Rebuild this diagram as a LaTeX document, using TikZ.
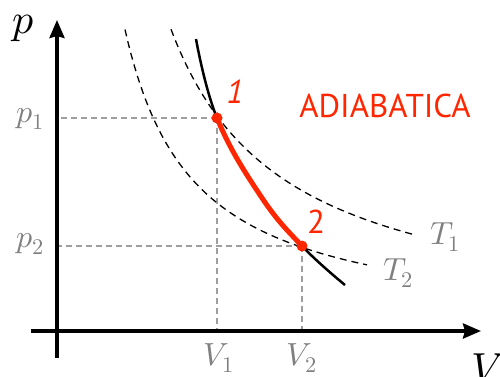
\documentclass[tikz,border=0pt]{standalone}
\usepackage{fontspec}
\usepackage{unicode-math}
\setmathfont{Latin Modern Math}
\newfontfamily\labelfont{PT Sans}
\usetikzlibrary{arrows.meta}
\definecolor{adred}{RGB}{255,38,0}
\definecolor{lblgray}{RGB}{128,128,128}
\definecolor{guidegray}{RGB}{158,158,158}
\begin{document}
\begin{tikzpicture}[x=1pt,y=-1pt,
  axisline/.style={line width=3.4pt,-{Stealth[length=18pt,width=15pt,inset=2pt]}},
  guide/.style={guidegray,line width=2.6pt,dash pattern=on 6pt off 4pt},
  iso/.style={black,line width=1.3pt,dash pattern=on 7pt off 5pt},
  adia/.style={black,line width=2.5pt},
  adiared/.style={adred,line width=5pt},
  dot/.style={circle,fill=adred,inner sep=0pt,minimum size=11pt},
  ticklbl/.style={lblgray,inner sep=0pt,font=\fontsize{32}{38}\selectfont},
  axislbl/.style={black,inner sep=0pt,font=\fontsize{42}{50}\selectfont},
  ptlbl/.style={adred,inner sep=0pt,font=\labelfont\fontsize{33}{40}\selectfont},
]
\useasboundingbox (0,0) rectangle (500,376);
% key coordinates
\coordinate (O) at (57,331);
\coordinate (ytop) at (57,20);
\coordinate (ybot) at (57,358);
\coordinate (xleft) at (31,331);
\coordinate (xright) at (481,331);
\coordinate (P1) at (217,118);
\coordinate (P2) at (302,246);
% guide lines
\draw[guide] (P1) -- (P1 -| O);
\draw[guide] (P1) -- (P1 |- O);
\draw[guide] (P2) -- (P2 -| O);
\draw[guide] (P2) -- (P2 |- O);
% isotherms
\draw[iso] plot[domain=114:358,samples=80] ({57+\x},{331-344/(\x/100)});
\draw[iso] plot[domain=68:310,samples=80] ({57+\x},{331-205/(\x/100)});
% adiabat
\def\adiapath{plot[smooth,tension=0.7] coordinates {(196,39) (217,118) (260,195) (302,246) (345,285)}}
\draw[adia] \adiapath;
\begin{scope}
  \clip (217,0) rectangle (302,376);
  \draw[adiared] \adiapath;
\end{scope}
\node[dot] (d1) at (P1) {};
\node[dot] (d2) at (P2) {};
% axes
\draw[axisline] (ybot) -- (ytop);
\draw[axisline] (xleft) -- (xright);
% labels
\node[axislbl,anchor=base] (lp) at (23,33) {$p$};
\node[axislbl,anchor=base west] (lV) at (471,382) {$V$};
\node[ticklbl,anchor=base east] (lp1) at (44,122) {$p_1$};
\node[ticklbl,anchor=base east] (lp2) at (44,247) {$p_2$};
\node[ticklbl,anchor=base] (lV1) at (219,365) {$V_1$};
\node[ticklbl,anchor=base] (lV2) at (302,365) {$V_2$};
\node[ticklbl,anchor=base west] (lT1) at (430,244) {$T_1$};
\node[ticklbl,anchor=base west] (lT2) at (383,280) {$T_2$};
\node[ptlbl,anchor=base] (l1) at (235,103) {\itshape 1};
\node[ptlbl,anchor=base] (l2) at (316,233) {2};
\node[ptlbl,anchor=base] (ltitle) at (385,117) {ADIABATICA};
\end{tikzpicture}
\end{document}
